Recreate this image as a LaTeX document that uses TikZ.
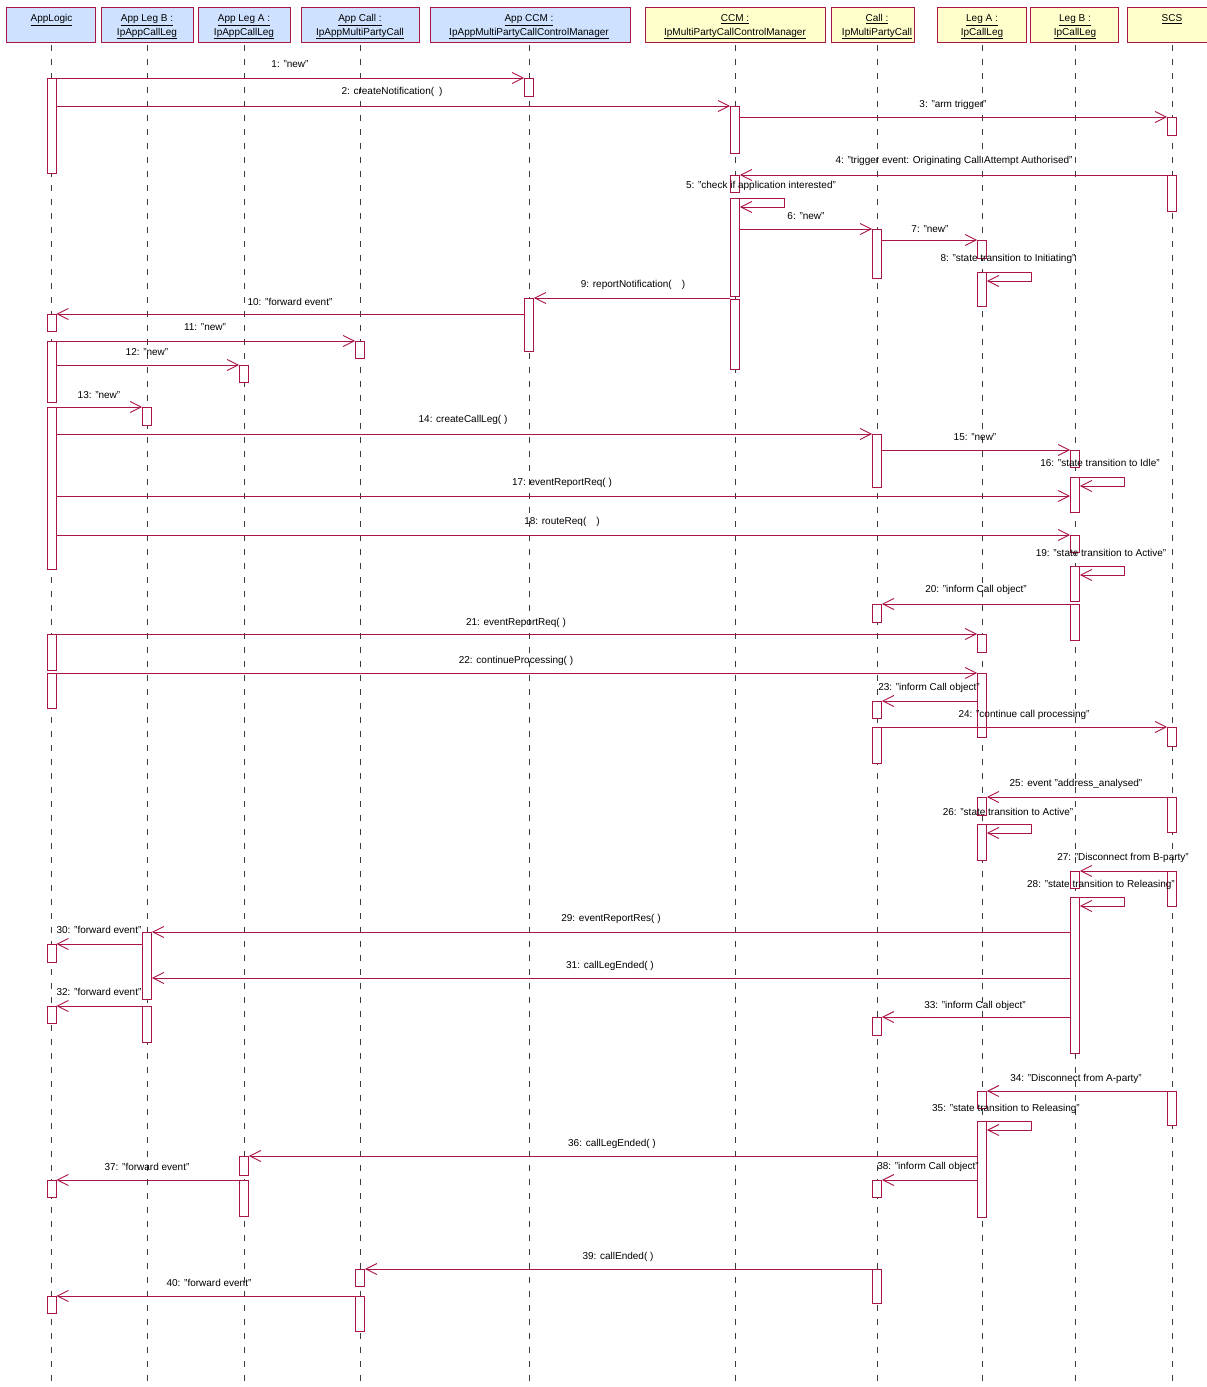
\documentclass[tikz,border=0pt]{standalone}
\usepackage{fontspec}
\setmainfont{Liberation Sans}
\usetikzlibrary{arrows.meta}
\definecolor{crim}{RGB}{170,20,70}
\definecolor{hblue}{RGB}{206,226,255}
\definecolor{hyel}{RGB}{255,255,204}
\definecolor{lifec}{RGB}{60,60,60}
\newcommand\actbar[4]{\node[actbox,minimum height={#4-#3}] (#1) at (#2 |- 0,#3) {};}
\newcommand\selfloop[1]{\draw[msgline] (#1.north east) -- ++(44.5,0) -- ++(0,9) -- ++(-44.5,0);}
\begin{document}
\begin{tikzpicture}[x=1pt,y=-1pt,
  hdr/.style={draw=crim, line width=0.9pt, minimum height=35pt, inner sep=0pt, anchor=north west},
  htxt/.style={anchor=base, inner sep=0pt, font=\fontsize{10}{12}\selectfont},
  actbox/.style={draw=crim, fill=white, line width=0.9pt, minimum width=9pt, inner sep=0pt, anchor=north},
  msgline/.style={draw=crim, line width=0.9pt, -{Straight Barb[length=11pt,width=11pt]}},
  lbl/.style={inner sep=0pt, font=\fontsize{10}{12}\selectfont, text=black},
  lifeline/.style={draw=lifec, line width=0.9pt, dash pattern=on 6pt off 8pt}
]
\useasboundingbox (0,0) rectangle (1207,1387);
\fill[white] (0,0) rectangle (1207,1387);

% header boxes
\node[hdr, fill=hblue, minimum width=89pt]  (hAL)   at (6,7) {};
\node[hdr, fill=hblue, minimum width=92pt]  (hALB)  at (101,7) {};
\node[hdr, fill=hblue, minimum width=92pt]  (hALA)  at (198,7) {};
\node[hdr, fill=hblue, minimum width=118pt] (hAC)   at (301,7) {};
\node[hdr, fill=hblue, minimum width=200pt] (hACCM) at (430,7) {};
\node[hdr, fill=hyel, minimum width=180pt]  (hCCM)  at (645,7) {};
\node[hdr, fill=hyel, minimum width=83pt]   (hCall) at (831,7) {};
\node[hdr, fill=hyel, minimum width=89pt]   (hLA)   at (937,7) {};
\node[hdr, fill=hyel, minimum width=88pt]   (hLB)   at (1030,7) {};
\node[hdr, fill=hyel, minimum width=90pt]   (hSCS)  at (1127,7) {};

% lifeline tops
\coordinate (lAL) at (51.5,45);
\coordinate (lALB) at (147,45);
\coordinate (lALA) at (244,45);
\coordinate (lAC) at (360,45);
\coordinate (lACCM) at (529,45);
\coordinate (lCCM) at (735,45);
\coordinate (lCall) at (877,45);
\coordinate (lLA) at (982,45);
\coordinate (lLB) at (1075,45);
\coordinate (lSCS) at (1172,45);

% header texts
\node[htxt] (tAL)    at (lAL |- 0,21.5) {\underline{AppLogic}};
\node[htxt] (tALB1)  at (lALB |- 0,21.5) {\underline{App Leg B :}};
\node[htxt] (tALB2)  at (lALB |- 0,35) {\underline{IpAppCallLeg}};
\node[htxt] (tALA1)  at (lALA |- 0,21.5) {\underline{App Leg A :}};
\node[htxt] (tALA2)  at (lALA |- 0,35) {\underline{IpAppCallLeg}};
\node[htxt] (tAC1)   at (lAC |- 0,21.5) {\underline{App Call :}};
\node[htxt] (tAC2)   at (lAC |- 0,35) {\underline{IpAppMultiPartyCall}};
\node[htxt] (tACCM1) at (lACCM |- 0,21.5) {\underline{App CCM :}};
\node[htxt] (tACCM2) at (lACCM |- 0,35) {\underline{IpAppMultiPartyCallControlManager}};
\node[htxt] (tCCM1)  at (lCCM |- 0,21.5) {\underline{CCM :}};
\node[htxt] (tCCM2)  at (lCCM |- 0,35) {\underline{IpMultiPartyCallControlManager}};
\node[htxt] (tCall1) at (lCall |- 0,21.5) {\underline{Call :}};
\node[htxt] (tCall2) at (lCall |- 0,35) {\underline{IpMultiPartyCall}};
\node[htxt] (tLA1)   at (lLA |- 0,21.5) {\underline{Leg A :}};
\node[htxt] (tLA2)   at (lLA |- 0,35) {\underline{IpCallLeg}};
\node[htxt] (tLB1)   at (lLB |- 0,21.5) {\underline{Leg B :}};
\node[htxt] (tLB2)   at (lLB |- 0,35) {\underline{IpCallLeg}};
\node[htxt] (tSCS)   at (lSCS |- 0,21.5) {\underline{SCS}};

% lifelines
\foreach \l in {lAL,lALB,lALA,lAC,lACCM,lCCM,lCall,lLA,lLB,lSCS}
  \draw[lifeline] (\l) -- (\l |- 0,1392);

% activation bars
\actbar{AL1}{lAL}{78}{173}
\actbar{AL2}{lAL}{314}{331}
\actbar{AL3}{lAL}{341}{402}
\actbar{AL4}{lAL}{407}{569}
\actbar{AL5}{lAL}{634}{670}
\actbar{AL6}{lAL}{673}{708}
\actbar{AL7}{lAL}{944}{962}
\actbar{AL8}{lAL}{1006}{1023}
\actbar{AL9}{lAL}{1180}{1197}
\actbar{AL10}{lAL}{1296}{1313}
\actbar{ALB1}{lALB}{407}{425}
\actbar{ALB2}{lALB}{932}{999}
\actbar{ALB3}{lALB}{1006}{1042}
\actbar{ALA1}{lALA}{365}{382}
\actbar{ALA2}{lALA}{1156}{1175}
\actbar{ALA3}{lALA}{1180}{1216}
\actbar{AC1}{lAC}{341}{358}
\actbar{AC2}{lAC}{1269}{1286}
\actbar{AC3}{lAC}{1296}{1331}
\actbar{ACCM1}{lACCM}{78}{96}
\actbar{ACCM2}{lACCM}{298}{351}
\actbar{CCM1}{lCCM}{106}{153}
\actbar{CCM2}{lCCM}{175}{192}
\actbar{CCM3}{lCCM}{198}{296}
\actbar{CCM4}{lCCM}{299}{369}
\actbar{C1}{lCall}{229}{278}
\actbar{C2}{lCall}{434}{487}
\actbar{C3}{lCall}{604}{622}
\actbar{C4}{lCall}{701}{718}
\actbar{C5}{lCall}{727}{763}
\actbar{C6}{lCall}{1017}{1035}
\actbar{C7}{lCall}{1180}{1197}
\actbar{C8}{lCall}{1269}{1303}
\actbar{LA1}{lLA}{240}{258}
\actbar{LA2}{lLA}{272}{306}
\actbar{LA3}{lLA}{634}{652}
\actbar{LA4}{lLA}{673}{737}
\actbar{LA5}{lLA}{797}{815}
\actbar{LA6}{lLA}{824}{860}
\actbar{LA7}{lLA}{1091}{1108}
\actbar{LA8}{lLA}{1121}{1217}
\actbar{LB1}{lLB}{450}{467}
\actbar{LB2}{lLB}{477}{512}
\actbar{LB3}{lLB}{535}{552}
\actbar{LB4}{lLB}{566}{601}
\actbar{LB5}{lLB}{604}{640}
\actbar{LB6}{lLB}{871}{888}
\actbar{LB7}{lLB}{897}{1053}
\actbar{S1}{lSCS}{117}{135}
\actbar{S2}{lSCS}{175}{211}
\actbar{S3}{lSCS}{727}{746}
\actbar{S4}{lSCS}{797}{832}
\actbar{S5}{lSCS}{871}{906}
\actbar{S6}{lSCS}{1091}{1125}

% messages
\draw[msgline] (AL1.east |- ACCM1.north) -- (ACCM1.north west);
\draw[msgline] (AL1.east |- CCM1.north) -- (CCM1.north west);
\draw[msgline] (CCM1.east |- S1.north) -- (S1.north west);
\draw[msgline] (S2.north west) -- (CCM2.north east);
\selfloop{CCM3}
\draw[msgline] (CCM3.east |- C1.north) -- (C1.north west);
\draw[msgline] (C1.east |- LA1.north) -- (LA1.north west);
\selfloop{LA2}
\draw[msgline] (CCM4.west |- ACCM2.north) -- (ACCM2.north east);
\draw[msgline] (ACCM2.west |- AL2.north) -- (AL2.north east);
\draw[msgline] (AL3.north east) -- (AC1.north west);
\draw[msgline] (AL3.east |- ALA1.north) -- (ALA1.north west);
\draw[msgline] (AL4.north east) -- (ALB1.north west);
\draw[msgline] (AL4.east |- C2.north) -- (C2.north west);
\draw[msgline] (C2.east |- LB1.north) -- (LB1.north west);
\selfloop{LB2}
\draw[msgline] (AL4.east |- 0,496) -- (LB2.west |- 0,496);
\draw[msgline] (AL4.east |- LB3.north) -- (LB3.north west);
\selfloop{LB4}
\draw[msgline] (LB5.north west) -- (C3.north east);
\draw[msgline] (AL5.north east) -- (LA3.north west);
\draw[msgline] (AL6.north east) -- (LA4.north west);
\draw[msgline] (LA4.west |- C4.north) -- (C4.north east);
\draw[msgline] (C5.north east) -- (S3.north west);
\draw[msgline] (S4.north west) -- (LA5.north east);
\selfloop{LA6}
\draw[msgline] (S5.north west) -- (LB6.north east);
\selfloop{LB7}
\draw[msgline] (LB7.west |- ALB2.north) -- (ALB2.north east);
\draw[msgline] (ALB2.west |- AL7.north) -- (AL7.north east);
\draw[msgline] (LB7.west |- 0,978) -- (ALB2.east |- 0,978);
\draw[msgline] (ALB3.north west) -- (AL8.north east);
\draw[msgline] (LB7.west |- C6.north) -- (C6.north east);
\draw[msgline] (S6.north west) -- (LA7.north east);
\selfloop{LA8}
\draw[msgline] (LA8.west |- ALA2.north) -- (ALA2.north east);
\draw[msgline] (ALA3.north west) -- (AL9.north east);
\draw[msgline] (LA8.west |- C7.north) -- (C7.north east);
\draw[msgline] (C8.north west) -- (AC2.north east);
\draw[msgline] (AC3.north west) -- (AL10.north east);

% message labels
\node[lbl] (m1) at (290,64) {1: "new"};
\node[lbl] (m2) at (392,92) {2: createNotification(\enspace)};
\node[lbl] (m3) at (953,105) {3: "arm trigger"};
\node[lbl] (m4) at (954,161) {4: "trigger event: Originating Call Attempt Authorised"};
\node[lbl] (m5) at (761,186) {5: "check if application interested"};
\node[lbl] (m6) at (806,216) {6: "new"};
\node[lbl] (m7) at (930,229) {7: "new"};
\node[lbl] (m8) at (1008,259) {8: "state transition to Initiating"};
\node[lbl] (m9) at (633,285) {9: reportNotification(\quad)};
\node[lbl] (m10) at (290,302) {10: "forward event"};
\node[lbl] (m11) at (205,327) {11: "new"};
\node[lbl] (m12) at (147,352) {12: "new"};
\node[lbl] (m13) at (99,395) {13: "new"};
\node[lbl] (m14) at (463,420) {14: createCallLeg( )};
\node[lbl] (m15) at (975,437) {15: "new"};
\node[lbl] (m16) at (1100,463) {16: "state transition to Idle"};
\node[lbl] (m17) at (562,483) {17: eventReportReq( )};
\node[lbl] (m18) at (562,522) {18: routeReq(\quad)};
\node[lbl] (m19) at (1101,553) {19: "state transition to Active"};
\node[lbl] (m20) at (976,590) {20: "inform Call object"};
\node[lbl] (m21) at (516,623) {21: eventReportReq( )};
\node[lbl] (m22) at (516,661) {22: continueProcessing( )};
\node[lbl] (m23) at (929,688) {23: "inform Call object"};
\node[lbl] (m24) at (1024,715) {24: "continue call processing"};
\node[lbl] (m25) at (1076,784) {25: event "address\_analysed"};
\node[lbl] (m26) at (1008,812) {26: "state transition to Active"};
\node[lbl] (m27) at (1123,858) {27: "Disconnect from B-party"};
\node[lbl] (m28) at (1101,885) {28: "state transition to Releasing"};
\node[lbl] (m29) at (611,919) {29: eventReportRes( )};
\node[lbl] (m30) at (99,930) {30: "forward event"};
\node[lbl] (m31) at (610,966) {31: callLegEnded( )};
\node[lbl] (m32) at (99,992) {32: "forward event"};
\node[lbl] (m33) at (975,1006) {33: "inform Call object"};
\node[lbl] (m34) at (1076,1079) {34: "Disconnect from A-party"};
\node[lbl] (m35) at (1006,1109) {35: "state transition to Releasing"};
\node[lbl] (m36) at (612,1144) {36: callLegEnded( )};
\node[lbl] (m37) at (147,1167) {37: "forward event"};
\node[lbl] (m38) at (928,1167) {38: "inform Call object"};
\node[lbl] (m39) at (618,1257) {39: callEnded( )};
\node[lbl] (m40) at (209,1283) {40: "forward event"};
\end{tikzpicture}
\end{document}
